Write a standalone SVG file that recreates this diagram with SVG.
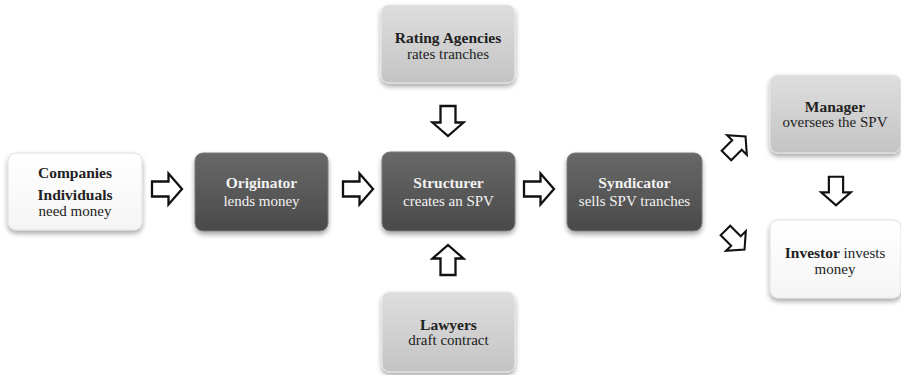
<svg xmlns="http://www.w3.org/2000/svg" width="901" height="375" viewBox="0 0 901 375">
<style>
.t{font-family:"Liberation Serif","Times New Roman",serif;text-anchor:middle;font-size:15px}
.b{font-weight:bold;font-size:15.5px}
.dk{fill:url(#gd);stroke:#7a7a7a;stroke-width:1}
.lt{fill:url(#gl);stroke:#e6e6e6;stroke-width:1}
.wh{fill:url(#gw);stroke:#e0e0e0;stroke-width:1}
.dt{fill:#f2f2f2}
.bt{fill:#222}
.arrow{fill:#fff;stroke:#111;stroke-width:2.3;stroke-linejoin:miter}
</style>
<defs>
<linearGradient id="gd" x1="0" y1="0" x2="0" y2="1"><stop offset="0" stop-color="#686868"/><stop offset="1" stop-color="#4a4a4a"/></linearGradient>
<linearGradient id="gl" x1="0" y1="0" x2="0" y2="1"><stop offset="0" stop-color="#dedede"/><stop offset="1" stop-color="#c4c4c4"/></linearGradient>
<linearGradient id="gw" x1="0" y1="0" x2="0" y2="1"><stop offset="0" stop-color="#ffffff"/><stop offset="1" stop-color="#f5f5f5"/></linearGradient>
<filter id="sh" x="-20%" y="-20%" width="140%" height="150%"><feDropShadow dx="0" dy="3" stdDeviation="2.5" flood-color="#000" flood-opacity="0.35"/></filter>
<path id="arr" d="M-15,-7.5 H1.5 V-15.5 L15,0 L1.5,15.5 V7.5 H-15 Z"/>
</defs>
<g id="connectors">
<use href="#arr" class="arrow" transform="translate(167,189)"/>
<use href="#arr" class="arrow" transform="translate(358,189)"/>
<use href="#arr" class="arrow" transform="translate(539,189)"/>
<use href="#arr" class="arrow" transform="translate(448,121) rotate(90)"/>
<use href="#arr" class="arrow" transform="translate(448,260) rotate(-90)"/>
<use href="#arr" class="arrow" transform="translate(836,191) rotate(90) scale(0.95)"/>
<use href="#arr" class="arrow" transform="translate(736,146) rotate(-45) scale(0.9)"/>
<use href="#arr" class="arrow" transform="translate(735,240) rotate(45) scale(0.9)"/>
</g>
<g id="companies">
<rect x="8" y="153" width="134" height="77" rx="8" class="wh" filter="url(#sh)"/>
<text class="t b bt" x="75" y="178">Companies</text>
<text class="t b bt" x="75" y="200">Individuals</text>
<text class="t bt" x="75" y="216">need money</text>
</g>
<g id="originator">
<rect x="195" y="153" width="133" height="78" rx="8" class="dk" filter="url(#sh)"/>
<text class="t b dt" x="261.5" y="188">Originator</text>
<text class="t dt" x="261.5" y="206">lends money</text>
</g>
<g id="structurer">
<rect x="382" y="152" width="133" height="79" rx="8" class="dk" filter="url(#sh)"/>
<text class="t b dt" x="448.5" y="188">Structurer</text>
<text class="t dt" x="448.5" y="206">creates an SPV</text>
</g>
<g id="syndicator">
<rect x="567" y="153" width="135" height="78" rx="8" class="dk" filter="url(#sh)"/>
<text class="t b dt" x="634.5" y="188">Syndicator</text>
<text class="t dt" x="634.5" y="206">sells SPV tranches</text>
</g>
<g id="rating">
<rect x="381" y="5" width="134" height="78" rx="8" class="lt" filter="url(#sh)"/>
<text class="t b bt" x="448" y="43">Rating Agencies</text>
<text class="t bt" x="448" y="59">rates tranches</text>
</g>
<g id="lawyers">
<rect x="382" y="292" width="133" height="80" rx="8" class="lt" filter="url(#sh)"/>
<text class="t b bt" x="448.5" y="330">Lawyers</text>
<text class="t bt" x="448.5" y="345">draft contract</text>
</g>
<g id="manager">
<rect x="770" y="75" width="131" height="78" rx="8" class="lt" filter="url(#sh)"/>
<text class="t b bt" x="835" y="112">Manager</text>
<text class="t bt" x="835" y="127">oversees the SPV</text>
</g>
<g id="investor">
<rect x="770" y="220" width="131" height="78" rx="8" class="wh" filter="url(#sh)"/>
<text class="t bt" x="835" y="258"><tspan font-weight="bold" font-size="15.5">Investor</tspan> invests</text>
<text class="t bt" x="835" y="274">money</text>
</g>
</svg>
